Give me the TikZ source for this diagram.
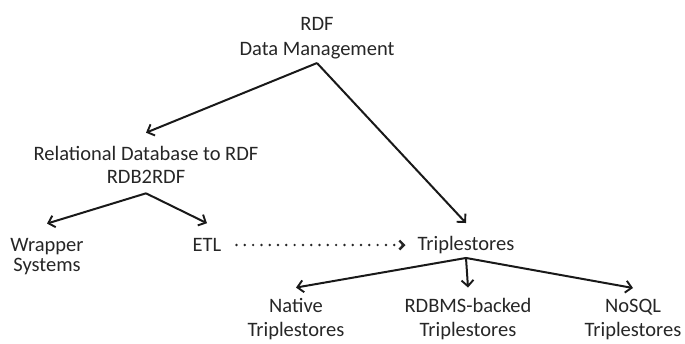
\documentclass[tikz,border=0pt]{standalone}
\usepackage{fontspec}
\setmainfont{Carlito}
\usetikzlibrary{arrows.meta,positioning,calc}

\begin{document}
\begin{tikzpicture}[
    x=1pt, y=-1pt,
    lbl/.style={align=center, inner sep=0pt, text=black!85,
                font=\fontsize{20.5}{25}\selectfont},
    arr/.style={-{Straight Barb[length=6pt,width=12pt,line width=1.9pt]},
                line width=2pt, black!90},
    dotarr/.style={-{Straight Barb[length=4.5pt,width=9pt,line width=2.4pt]},
                   line width=2.7pt, line cap=round,
                   dash pattern=on 0pt off 8.3pt, black!85}
]
\useasboundingbox (0,0) rectangle (685,343);

% Top
\node[lbl] (dm) at (317, 38) {RDF\\Data Management};

% Left branch
\node[lbl, font=\fontsize{20.5}{23}\selectfont] (rdb) at (146, 164.5) {Relational Database to RDF\\RDB2RDF};
\node[lbl, font=\fontsize{20.5}{20}\selectfont] (wrap) at (47, 257) {Wrapper\\Systems};
\node[lbl] (etl) at (207, 245) {ETL};

% Right branch
\node[lbl] (triple) at (466, 245) {Triplestores};
\node[lbl, font=\fontsize{20.5}{24}\selectfont] (native) at (296, 319.5) {Native\\Triplestores};
\node[lbl, font=\fontsize{20.5}{24}\selectfont] (rdbms) at (468, 319.5) {RDBMS-backed\\Triplestores};
\node[lbl, font=\fontsize{20.5}{24}\selectfont] (nosql) at (633, 319.5) {NoSQL\\Triplestores};

% Forks
\coordinate (dmfork) at ([yshift=-4pt]dm.south);
\coordinate (rdbfork) at ([yshift=-10pt]rdb.south);
\coordinate (tripfork) at ([yshift=-4pt]triple.south);

% Arrows
\draw[arr] (dmfork) -- ([yshift=13pt]rdb.north);
\draw[arr] (dmfork) -- ([yshift=13pt]triple.north);
\draw[arr] (rdbfork) -- ([yshift=15pt]wrap.north);
\draw[arr] (rdbfork) -- ([yshift=15pt]etl.north);
\draw[dotarr] ([xshift=15pt]etl.east) -- ([xshift=-12pt]triple.west);

\foreach \leaf in {native, rdbms, nosql} {
    \draw[arr] (tripfork) -- ([yshift=11pt]\leaf.north);
}

\end{tikzpicture}
\end{document}
